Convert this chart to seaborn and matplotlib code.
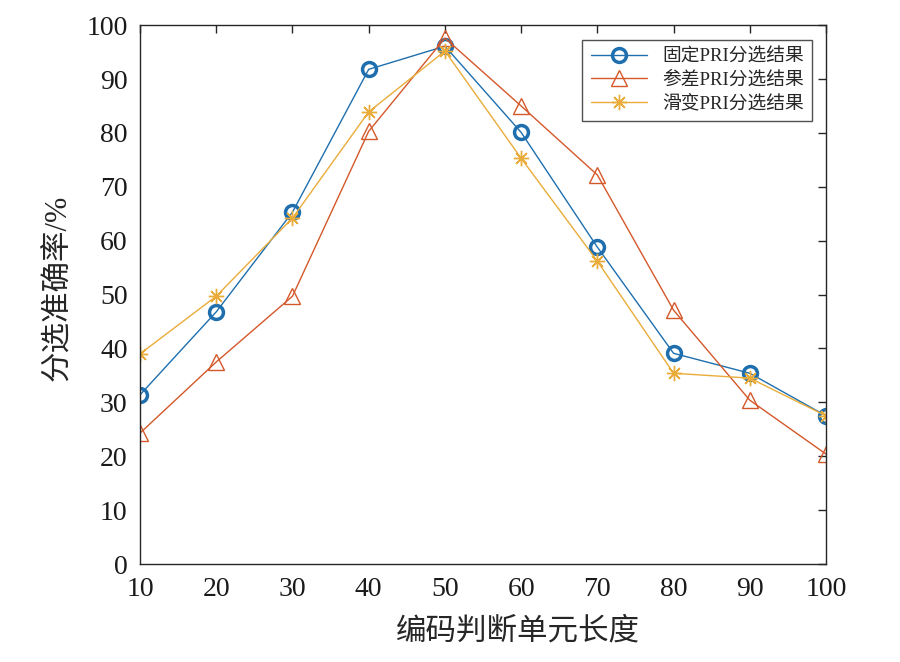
import pandas as pd
import matplotlib
matplotlib.use('Agg')
import matplotlib.pyplot as plt
import seaborn as sns

sns.set_style('white')
plt.rcParams['font.family'] = ['Liberation Serif', 'Noto Sans CJK SC']

# 数据
lengths = [10, 20, 30, 40, 50, 60, 70, 80, 90, 100]
fixed_pri = [31.4, 46.8, 65.3, 91.8, 96.1, 80.1, 58.8, 39.1, 35.4, 27.5]
stagger_pri = [24.3, 37.5, 49.7, 80.3, 97.6, 85.0, 72.2, 47.1, 30.4, 20.4]
jitter_pri = [39.0, 49.7, 64.2, 83.9, 95.2, 75.3, 56.2, 35.4, 34.5, 27.5]
labels = ['固定PRI分选结果', '参差PRI分选结果', '滑变PRI分选结果']

c_blue, c_red, c_yel = '#1f6fae', '#d4582a', '#e9ac3a'

fig = plt.figure(figsize=(9, 6.62), dpi=100)
ax = fig.add_axes([0.1556, 0.148, 0.7622, 0.814])

sns.lineplot(x=lengths, y=fixed_pri, ax=ax, color=c_blue, marker='o',
             markersize=10, markerfacecolor='none', markeredgecolor=c_blue,
             markeredgewidth=2.5, linewidth=1, label=labels[0])
sns.lineplot(x=lengths, y=stagger_pri, ax=ax, color=c_red, marker='^',
             markersize=12, markerfacecolor='none', markeredgecolor=c_red,
             markeredgewidth=1, linewidth=1, label=labels[1])
sns.lineplot(x=lengths, y=jitter_pri, ax=ax, color=c_yel, marker=(8, 2, 0),
             markersize=11, markerfacecolor='none', markeredgecolor=c_yel,
             markeredgewidth=1, linewidth=1, label=labels[2])

ax.set_xlim(10, 100)
ax.set_ylim(0, 100)
ax.set_xticks(range(10, 101, 10))
ax.set_yticks(range(0, 101, 10))
ax.tick_params(direction='in', length=6, width=1, labelsize=20, pad=9,
               top=True, right=True, colors='#262626', labelcolor='#1a1a1a')
for sp in ax.spines.values():
    sp.set_color('#262626')
    sp.set_linewidth(1)
ax.set_xlabel('编码判断单元长度', fontsize=22)
ax.set_ylabel('分选准确率/%', fontsize=22)
ax.xaxis.set_label_coords(0.551, -0.1)
ax.yaxis.set_label_coords(-0.097, 0.512)

leg = ax.legend(loc='upper right', fontsize=13.5, frameon=True, fancybox=False,
                edgecolor='#262626', borderpad=0.45, labelspacing=0.3,
                handlelength=3, borderaxespad=0, bbox_to_anchor=(0.98, 0.972))
leg.get_frame().set_linewidth(1)

fig.savefig('out.png', dpi=100)
